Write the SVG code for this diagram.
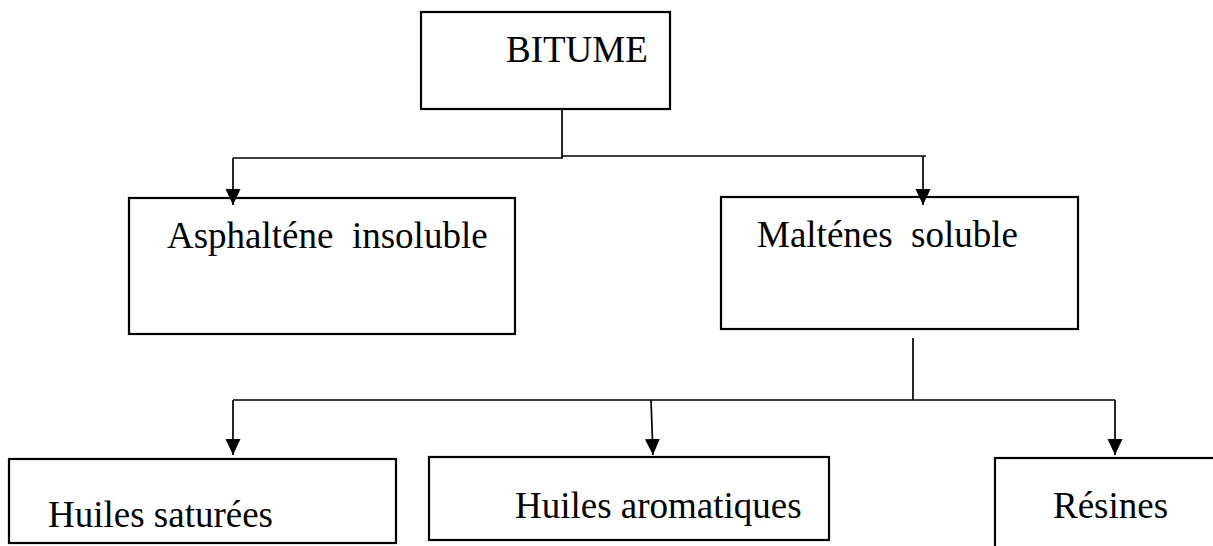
<svg xmlns="http://www.w3.org/2000/svg" width="1213" height="546" viewBox="0 0 1213 546">
  <style>
    .box { fill: none; stroke: #000; stroke-width: 2.2; }
    .lbl { font-family: "Liberation Serif", "Times New Roman", serif; font-size: 37px; fill: #000; }
    .wire { fill: none; stroke: #000; stroke-width: 1.7; }
  </style>
  <defs>
    <marker id="arrow" markerUnits="userSpaceOnUse" markerWidth="17" markerHeight="16" refX="16" refY="7.5" orient="auto">
      <path d="M0,0 L16,7.5 L0,15 z" fill="#000"/>
    </marker>
  </defs>
  <rect width="1213" height="546" fill="#fff"/>

  <!-- connectors -->
  <g id="connectors">
    <!-- BITUME split -->
    <polyline class="wire" points="562,109 562,158 233,158"/>
    <polyline class="wire" points="562,156 926,156"/>
    <line class="wire" x1="233" y1="158" x2="233" y2="205" marker-end="url(#arrow)"/>
    <line class="wire" x1="923" y1="156" x2="923" y2="205" marker-end="url(#arrow)"/>
    <!-- Malténes split -->
    <line class="wire" x1="913" y1="338" x2="913" y2="400"/>
    <polyline class="wire" points="233,400 1115,400"/>
    <line class="wire" x1="233" y1="400" x2="233" y2="455" marker-end="url(#arrow)"/>
    <line class="wire" x1="651" y1="400" x2="653" y2="455" marker-end="url(#arrow)"/>
    <line class="wire" x1="1115" y1="400" x2="1115" y2="455" marker-end="url(#arrow)"/>
  </g>

  <g id="bitume">
    <rect class="box" x="421" y="12" width="249" height="97"/>
    <text class="lbl" x="506" y="62">BITUME</text>
  </g>

  <g id="asphaltene">
    <rect class="box" x="129" y="198" width="386" height="136"/>
    <text class="lbl" x="167" y="248" xml:space="preserve">Asphalténe  insoluble</text>
  </g>

  <g id="maltenes">
    <rect class="box" x="721" y="197" width="357" height="132"/>
    <text class="lbl" x="757" y="247" xml:space="preserve">Malténes  soluble</text>
  </g>

  <g id="huiles-saturees">
    <rect class="box" x="9" y="459" width="387" height="84"/>
    <text class="lbl" x="48" y="527">Huiles saturées</text>
  </g>

  <g id="huiles-aromatiques">
    <rect class="box" x="429" y="457" width="400" height="83"/>
    <text class="lbl" x="515" y="518">Huiles aromatiques</text>
  </g>

  <g id="resines">
    <rect class="box" x="995" y="458" width="240" height="100"/>
    <text class="lbl" x="1053" y="518">Résines</text>
  </g>
</svg>
